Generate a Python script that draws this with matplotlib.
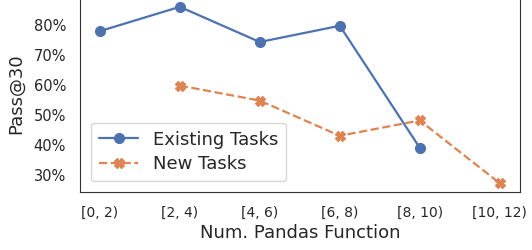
import numpy as np
import seaborn as sns
import matplotlib
matplotlib.use('Agg')
import matplotlib.pyplot as plt

bins = ['[0, 2)', '[2, 4)', '[4, 6)', '[6, 8)', '[8, 10)', '[10, 12)']
existing = [77.8, 85.9, 74.2, 79.6, 39.0, np.nan]
new = [np.nan, 59.7, 54.7, 43.0, 48.1, 27.2]
yticks = [30, 40, 50, 60, 70, 80]

sns.set_style('white')
plt.rcParams['font.family'] = ['DejaVu Sans']
pal = sns.color_palette('deep')

fig = plt.figure(figsize=(5.32, 2.5), dpi=100)
ax = fig.add_axes([0.150, 0.232, 0.827, 0.79])
x = np.arange(len(bins))
ax.plot(x, existing, color=pal[0], linewidth=1.6, marker='o', markersize=7,
        label='Existing Tasks')
ax.plot(x, new, color=pal[1], linewidth=1.6, linestyle='--', marker='X',
        markersize=6.5, label='New Tasks')
ax.set_xlim(-0.25, 5.25)
ax.set_ylim(24.3, 90)
ax.set_yticks(yticks)
ax.set_yticklabels([str(v) + '%' for v in yticks], fontsize=10.5)
ax.set_xticks(x)
ax.set_xticklabels(bins, fontsize=10)
ax.tick_params(axis='x', pad=6.5)
ax.tick_params(axis='y', pad=6.5)
ax.set_xlabel('Num. Pandas Function', fontsize=13, labelpad=3)
ax.set_ylabel('Pass@30', fontsize=13, labelpad=6)
for s in ax.spines.values():
    s.set_color('#333333')
ax.legend(loc='lower left', fontsize=13, frameon=True, borderaxespad=0.6,
          labelspacing=0.35, borderpad=0.45, handlelength=2.2)
fig.savefig('out.png', dpi=100)
